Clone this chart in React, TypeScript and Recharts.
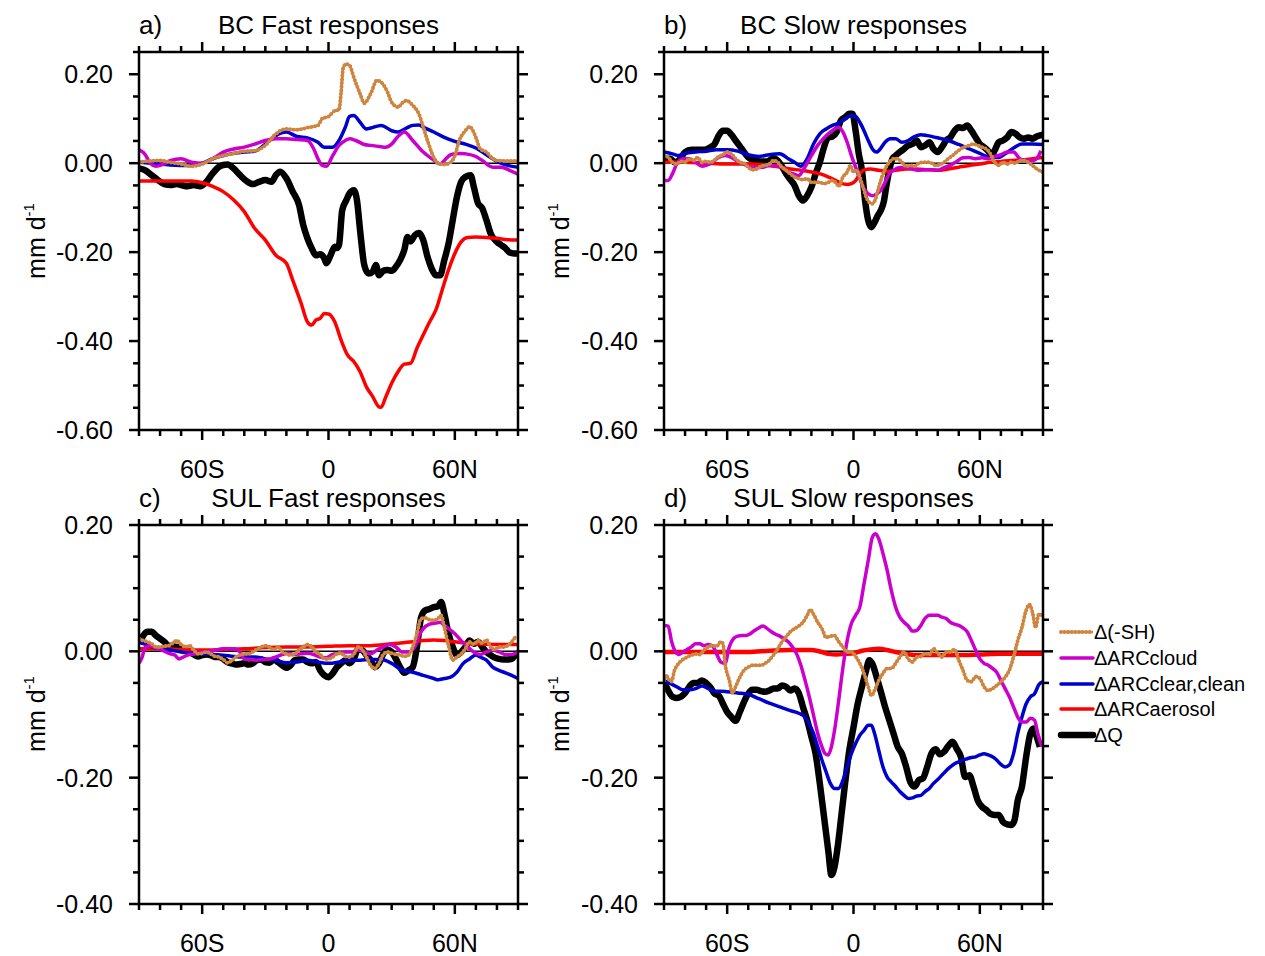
import React from 'react';
import { LineChart, Line, XAxis, YAxis, ReferenceLine } from 'recharts';

type Pair = [number, number];

// latitude ticks (degrees), majors get labels
const X_TICKS = [-90, -80, -70, -60, -50, -40, -30, -20, -10, 0, 10, 20, 30, 40, 50, 60, 70, 80, 90];
const X_MAJOR = [-60, 0, 60];
const X_LABELS = ['60S', '0', '60N'];

const Y_TICKS_TOP = [-0.6, -0.55, -0.5, -0.45, -0.4, -0.35, -0.3, -0.25, -0.2, -0.15, -0.1, -0.05, 0, 0.05, 0.1, 0.15, 0.2, 0.25];
const Y_MAJOR_TOP = [-0.6, -0.4, -0.2, 0, 0.2];
const Y_TICKS_BOT = [-0.4, -0.35, -0.3, -0.25, -0.2, -0.15, -0.1, -0.05, 0, 0.05, 0.1, 0.15, 0.2];
const Y_MAJOR_BOT = [-0.4, -0.2, 0, 0.2];

const LEGEND_NAMES = ['\u0394(-SH)', '\u0394ARCcloud', '\u0394ARCclear,clean', '\u0394ARCaerosol', '\u0394Q'];

// ---- a) BC fast
const aSH: Pair[] = [[-90, 0.002], [-85, 0.005], [-80, 0.006], [-75, 0.002], [-70, -0.002], [-65, -0.007], [-60, -0.002], [-55, 0.01], [-50, 0.017], [-45, 0.022], [-40, 0.027], [-35, 0.028], [-30, 0.04], [-25, 0.066], [-20, 0.077], [-15, 0.075], [-10, 0.08], [-5, 0.085], [-3, 0.1], [0, 0.105], [3, 0.118], [5, 0.12], [6, 0.16], [7, 0.215], [8.5, 0.223], [10, 0.22], [12, 0.193], [15, 0.156], [17, 0.135], [20, 0.156], [23, 0.186], [25, 0.182], [28, 0.16], [30, 0.137], [33, 0.126], [35, 0.135], [37, 0.141], [40, 0.13], [43, 0.11], [45, 0.081], [47, 0.051], [50, 0.013], [52, 0], [55, -0.003], [58, 0.002], [60, 0.017], [62, 0.05], [65, 0.073], [67, 0.082], [70, 0.058], [72, 0.032], [75, 0.025], [78, 0.01], [80, 0.006], [85, 0.005], [90, 0.005]];
const aCloud: Pair[] = [[-90, 0.03], [-87, 0.019], [-85, 0.002], [-82, -0.007], [-80, -0.005], [-75, 0.006], [-70, 0.01], [-65, 0.002], [-60, 0], [-55, 0.01], [-50, 0.025], [-45, 0.032], [-40, 0.036], [-35, 0.043], [-30, 0.051], [-25, 0.055], [-20, 0.055], [-15, 0.053], [-10, 0.051], [-7, 0.032], [-5, 0.01], [-3, -0.005], [-1, -0.007], [2, 0.017], [5, 0.04], [8, 0.051], [10, 0.055], [13, 0.051], [17, 0.042], [20, 0.04], [25, 0.037], [27, 0.036], [30, 0.043], [33, 0.06], [36, 0.07], [40, 0.051], [45, 0.025], [50, 0.007], [53, -0.002], [55, 0.006], [58, 0.019], [62, 0.022], [65, 0.021], [70, 0.015], [73, 0.006], [78, -0.009], [82, -0.009], [86, -0.016], [90, -0.025]];
const aClear: Pair[] = [[-90, 0.002], [-80, -0.002], [-70, -0.005], [-65, -0.005], [-60, 0], [-55, 0.01], [-50, 0.017], [-45, 0.022], [-40, 0.025], [-35, 0.027], [-30, 0.043], [-25, 0.062], [-20, 0.07], [-15, 0.06], [-10, 0.057], [-5, 0.047], [-2, 0.036], [2, 0.036], [5, 0.051], [8, 0.081], [10, 0.105], [12, 0.107], [15, 0.092], [18, 0.077], [20, 0.079], [25, 0.085], [30, 0.073], [33, 0.07], [37, 0.079], [40, 0.085], [43, 0.086], [45, 0.081], [50, 0.07], [55, 0.058], [60, 0.049], [65, 0.043], [70, 0.034], [75, 0.019], [80, 0.004], [85, -0.005], [90, -0.009]];
const aAer: Pair[] = [[-90, -0.04], [-80, -0.04], [-70, -0.04], [-65, -0.04], [-60, -0.044], [-55, -0.052], [-50, -0.064], [-45, -0.083], [-40, -0.109], [-35, -0.147], [-30, -0.173], [-25, -0.207], [-20, -0.225], [-17, -0.263], [-13, -0.315], [-10, -0.357], [-8, -0.364], [-6, -0.353], [-4, -0.349], [-2, -0.338], [0, -0.339], [3, -0.357], [6, -0.398], [9, -0.431], [12, -0.446], [15, -0.469], [18, -0.503], [21, -0.525], [24, -0.548], [25, -0.549], [27, -0.528], [30, -0.495], [33, -0.469], [36, -0.452], [39, -0.45], [42, -0.416], [45, -0.386], [48, -0.357], [51, -0.33], [54, -0.285], [57, -0.24], [60, -0.203], [63, -0.177], [66, -0.167], [70, -0.166], [75, -0.167], [80, -0.169], [85, -0.172], [90, -0.173]];
const aQ: Pair[] = [[-90, -0.012], [-87, -0.016], [-84, -0.027], [-81, -0.038], [-78, -0.047], [-75, -0.049], [-72, -0.047], [-70, -0.049], [-67, -0.052], [-64, -0.049], [-61, -0.052], [-58, -0.042], [-55, -0.023], [-52, -0.008], [-50, -0.004], [-48, -0.003], [-45, -0.012], [-42, -0.027], [-39, -0.04], [-36, -0.047], [-33, -0.042], [-30, -0.038], [-27, -0.042], [-25, -0.027], [-23, -0.019], [-20, -0.034], [-17, -0.064], [-14, -0.094], [-12, -0.139], [-10, -0.169], [-8, -0.191], [-6, -0.207], [-4, -0.205], [-2, -0.214], [-1, -0.225], [1, -0.207], [3, -0.188], [4, -0.191], [5, -0.184], [6.5, -0.106], [8.5, -0.083], [10, -0.068], [12, -0.061], [13.5, -0.083], [15, -0.151], [17, -0.229], [19, -0.248], [21, -0.244], [22.5, -0.229], [24, -0.252], [26, -0.242], [28, -0.24], [30, -0.242], [32, -0.233], [34, -0.218], [36, -0.195], [37.5, -0.166], [39, -0.176], [41, -0.162], [43, -0.157], [45, -0.173], [47, -0.21], [49, -0.237], [51, -0.252], [53, -0.252], [55, -0.218], [57, -0.181], [59, -0.128], [61, -0.076], [63, -0.042], [65, -0.031], [67.5, -0.027], [69, -0.053], [71, -0.09], [73, -0.101], [75, -0.128], [77, -0.158], [80, -0.177], [82, -0.184], [84, -0.191], [86, -0.201], [88, -0.203], [90, -0.203]];

// ---- b) BC slow
const bSH: Pair[] = [[-90, 0.017], [-88, 0.013], [-86, 0.002], [-84, -0.002], [-82, 0.004], [-80, 0.002], [-78, 0.01], [-76, 0.006], [-74, 0.013], [-72, 0.002], [-70, 0.004], [-68, 0.002], [-66, 0.007], [-64, 0.015], [-62, 0.019], [-60, 0.025], [-58, 0.021], [-56, 0.01], [-54, 0.002], [-52, 0], [-50, -0.009], [-48, -0.015], [-46, -0.013], [-44, -0.007], [-42, -0.005], [-40, -0.002], [-38, 0.006], [-36, 0.002], [-34, -0.009], [-32, -0.016], [-30, -0.024], [-28, -0.031], [-26, -0.035], [-24, -0.037], [-22, -0.035], [-20, -0.043], [-18, -0.043], [-16, -0.043], [-14, -0.046], [-12, -0.043], [-10, -0.039], [-8, -0.046], [-7, -0.052], [-5, -0.031], [-3, -0.02], [-1.5, -0.005], [0, -0.02], [1.5, -0.016], [3, -0.031], [4.5, -0.054], [6, -0.076], [7.5, -0.088], [9, -0.091], [10.5, -0.08], [12, -0.054], [13.5, -0.031], [15, -0.013], [17, 0.002], [19, 0.01], [21, 0.01], [23, 0.002], [25, -0.007], [27, -0.005], [29, -0.007], [31, 0], [33, 0.002], [35, 0.002], [37, 0], [39, -0.005], [41, -0.003], [43, 0.002], [45, 0.01], [47, 0.017], [49, 0.025], [51, 0.032], [53, 0.037], [55, 0.04], [57, 0.043], [59, 0.04], [61, 0.036], [63, 0.032], [65, 0.021], [67, 0.002], [69, -0.005], [71, 0.002], [73, -0.002], [75, 0.002], [77, 0], [79, 0.006], [81, 0.006], [83, 0.002], [85, -0.005], [87, -0.013], [90, -0.02]];
const bCloud: Pair[] = [[-90, -0.039], [-88, -0.039], [-86, -0.024], [-84, -0.002], [-81, 0.01], [-78, 0.01], [-75, 0.002], [-72, -0.007], [-70, -0.005], [-67, 0.002], [-64, 0.013], [-61, 0.017], [-58, 0.013], [-55, 0.004], [-52, -0.002], [-49, -0.009], [-46, -0.01], [-43, -0.009], [-40, -0.005], [-37, -0.005], [-34, -0.009], [-31, -0.02], [-28, -0.025], [-26, -0.028], [-24, -0.016], [-22, 0], [-20, 0.017], [-17, 0.04], [-14, 0.057], [-11, 0.07], [-9, 0.077], [-7, 0.081], [-5, 0.07], [-3, 0.047], [-1, 0.017], [1, -0.009], [3, -0.035], [5, -0.058], [7, -0.069], [9, -0.073], [11, -0.069], [13, -0.061], [15, -0.043], [17, -0.024], [19, -0.016], [22, -0.01], [25, -0.01], [28, -0.013], [31, -0.016], [34, -0.015], [37, -0.015], [40, -0.016], [43, -0.01], [46, -0.005], [49, 0.004], [52, 0.012], [55, 0.013], [58, 0.01], [61, 0.012], [64, 0.01], [67, 0.015], [70, 0.019], [73, 0.025], [76, 0.025], [79, 0.01], [82, 0.006], [85, 0.006], [87, 0.01], [89, 0.028]];
const bClear: Pair[] = [[-90, 0.025], [-86, 0.021], [-83, 0.017], [-80, 0.022], [-75, 0.025], [-70, 0.027], [-65, 0.03], [-60, 0.03], [-55, 0.027], [-50, 0.019], [-45, 0.015], [-40, 0.019], [-35, 0.021], [-31, 0.01], [-28, 0.002], [-25, -0.007], [-22, 0.01], [-19, 0.043], [-16, 0.066], [-13, 0.077], [-10, 0.085], [-7, 0.09], [-4, 0.1], [-1, 0.107], [1, 0.105], [3, 0.092], [5, 0.073], [7, 0.051], [9, 0.032], [11, 0.025], [13, 0.034], [15, 0.047], [17.5, 0.055], [20, 0.055], [23, 0.047], [26, 0.051], [29, 0.06], [32, 0.064], [35, 0.062], [40, 0.057], [45, 0.051], [50, 0.042], [55, 0.032], [60, 0.022], [65, 0.013], [69, 0.013], [72, 0.021], [76, 0.034], [80, 0.043], [85, 0.043], [90, 0.042]];
const bAer: Pair[] = [[-90, 0.002], [-80, 0.002], [-70, 0], [-60, -0.002], [-50, -0.002], [-40, -0.005], [-35, -0.009], [-30, -0.013], [-25, -0.016], [-20, -0.02], [-15, -0.025], [-10, -0.035], [-6, -0.045], [-3, -0.048], [-1, -0.046], [1, -0.039], [3, -0.024], [5, -0.015], [8, -0.013], [12, -0.016], [16, -0.018], [20, -0.016], [25, -0.013], [30, -0.013], [35, -0.015], [40, -0.016], [45, -0.013], [50, -0.009], [55, -0.005], [60, -0.002], [65, 0.002], [70, 0.004], [75, 0.006], [80, 0.007], [85, 0.01], [90, 0.013]];
const bQ: Pair[] = [[-90, 0.01], [-87, 0.01], [-85, 0.002], [-83, 0.006], [-80, 0.025], [-77, 0.03], [-74, 0.03], [-71, 0.03], [-68, 0.036], [-66, 0.043], [-64, 0.062], [-62, 0.073], [-60, 0.073], [-58, 0.064], [-56, 0.051], [-53, 0.032], [-50, 0.013], [-47, 0.006], [-44, 0.004], [-41, 0.004], [-38, 0.011], [-36, 0.006], [-34, -0.007], [-32, -0.024], [-30, -0.037], [-28, -0.05], [-26, -0.073], [-24, -0.084], [-22, -0.073], [-20, -0.054], [-18, -0.024], [-16, 0.002], [-14, 0.036], [-12, 0.058], [-10, 0.06], [-8, 0.07], [-6, 0.096], [-4, 0.103], [-2, 0.111], [-0.5, 0.111], [1, 0.073], [2.5, 0.021], [4, -0.016], [5.5, -0.084], [7, -0.129], [8.5, -0.144], [10, -0.133], [11.5, -0.118], [13, -0.106], [14.5, -0.084], [15.5, -0.054], [17, -0.016], [18.5, 0.01], [20, 0.017], [22, 0.025], [24, 0.032], [26, 0.04], [28, 0.043], [30, 0.051], [32, 0.036], [34, 0.04], [36, 0.047], [38, 0.032], [40, 0.025], [42, 0.036], [44, 0.051], [46, 0.058], [48, 0.073], [50, 0.081], [52, 0.079], [54, 0.085], [56, 0.073], [58, 0.058], [60, 0.043], [62, 0.036], [64, 0.027], [65.5, 0.017], [67, 0.028], [69, 0.047], [71, 0.051], [73, 0.058], [75, 0.07], [77, 0.066], [79, 0.058], [81, 0.055], [83, 0.058], [85, 0.055], [87, 0.06], [90, 0.064]];

// ---- c) SUL fast
const cSH: Pair[] = [[-90, 0.02], [-88, 0.017], [-86, 0.015], [-84, 0.012], [-82, 0.007], [-80, 0.007], [-78, 0.008], [-76, 0.009], [-74, 0.013], [-72, 0.017], [-70, 0.011], [-68, 0.007], [-66, 0.009], [-64, 0.002], [-62, -0.004], [-60, -0.003], [-58, -0.001], [-56, -0.004], [-54, -0.008], [-52, -0.009], [-50, -0.013], [-48, -0.018], [-46, -0.015], [-44, -0.009], [-42, -0.006], [-40, -0.004], [-38, -0.004], [-36, -0.001], [-34, 0.003], [-32, 0.007], [-30, 0.009], [-28, 0.007], [-26, 0.002], [-24, 0.007], [-22, -0.001], [-20, -0.004], [-18, -0.006], [-16, -0.004], [-14, 0.002], [-12, 0.007], [-10, 0.011], [-8, 0.007], [-6, -0.001], [-4, -0.005], [-2, -0.012], [0, -0.012], [2, -0.009], [4, -0.004], [6, -0.003], [8, -0.008], [10, -0.009], [12, -0.005], [14, 0.007], [16, 0.003], [18, -0.009], [20, -0.022], [22, -0.027], [24, -0.019], [26, -0.005], [28, -0.001], [30, -0.003], [32, -0.005], [34, -0.006], [36, -0.008], [38, -0.006], [40, 0.007], [42, 0.028], [44, 0.052], [46, 0.053], [48, 0.05], [50, 0.049], [52, 0.052], [53.5, 0.057], [55, 0.038], [57, 0.009], [59, -0.014], [61, -0.009], [63, -0.004], [65, 0.004], [67, 0.015], [69, 0.011], [71, 0.017], [73, 0.013], [75, 0.018], [77, 0.007], [79, 0.003], [81, 0.007], [83, 0.007], [85, 0.009], [87, 0.015], [89, 0.024]];
const cCloud: Pair[] = [[-90, -0.019], [-88.5, -0.009], [-87, 0.007], [-85, 0.009], [-82, 0.006], [-79, 0.002], [-76, -0.003], [-73, -0.006], [-71, -0.012], [-69, -0.009], [-66, -0.005], [-63, -0.004], [-60, -0.001], [-55, 0.001], [-50, 0.004], [-45, 0.004], [-42, -0.001], [-40, -0.012], [-37, -0.013], [-34, -0.014], [-31, -0.013], [-28, -0.012], [-25, -0.009], [-22, -0.005], [-19, -0.003], [-16, -0.005], [-13, -0.004], [-10, -0.003], [-7, -0.005], [-4, -0.009], [-1, -0.01], [2, -0.005], [5, -0.003], [8, -0.001], [11, -0.001], [14, 0.002], [17, -0.001], [20, -0.004], [23, 0.002], [26, 0.007], [29, 0.011], [32, 0.007], [35, -0.001], [38, -0.001], [41, 0.007], [43, 0.025], [45, 0.036], [48, 0.043], [51, 0.045], [53, 0.046], [55, 0.041], [57, 0.036], [60, 0.028], [63, 0.017], [66, 0.007], [69, -0.001], [72, -0.005], [75, -0.001], [78, 0.002], [81, -0.001], [84, -0.005], [87, -0.005], [90, -0.001]];
const cClear: Pair[] = [[-90, 0.015], [-87, 0.011], [-84, 0.007], [-80, 0.004], [-75, 0.002], [-70, -0.001], [-65, -0.003], [-60, -0.004], [-55, -0.005], [-50, -0.006], [-45, -0.008], [-40, -0.009], [-35, -0.009], [-30, -0.012], [-25, -0.014], [-20, -0.018], [-15, -0.017], [-10, -0.014], [-5, -0.017], [0, -0.019], [5, -0.017], [10, -0.014], [15, -0.014], [20, -0.013], [25, -0.013], [30, -0.019], [35, -0.03], [40, -0.033], [45, -0.038], [50, -0.043], [52, -0.045], [55, -0.043], [58, -0.041], [61, -0.033], [64, -0.019], [67, -0.012], [70, -0.006], [72, -0.009], [75, -0.014], [78, -0.025], [81, -0.03], [84, -0.034], [87, -0.038], [90, -0.043]];
const cAer: Pair[] = [[-90, 0.004], [-80, 0.004], [-70, 0.003], [-60, 0.002], [-50, 0.003], [-40, 0.004], [-30, 0.006], [-20, 0.007], [-10, 0.007], [0, 0.008], [10, 0.009], [20, 0.009], [30, 0.012], [40, 0.015], [45, 0.017], [50, 0.018], [55, 0.017], [60, 0.015], [65, 0.013], [70, 0.012], [80, 0.011], [90, 0.011]];
const cQ: Pair[] = [[-90, 0.012], [-88, 0.025], [-86, 0.031], [-84, 0.031], [-82, 0.025], [-80, 0.02], [-78, 0.015], [-76, 0.009], [-74, 0.008], [-72, 0.007], [-70, 0.006], [-68, 0.003], [-66, -0.001], [-64, -0.005], [-62, -0.008], [-60, -0.006], [-58, -0.005], [-56, -0.006], [-54, -0.009], [-52, -0.009], [-50, -0.012], [-48, -0.017], [-46, -0.019], [-44, -0.021], [-42, -0.02], [-40, -0.019], [-38, -0.021], [-36, -0.019], [-34, -0.014], [-32, -0.013], [-30, -0.017], [-28, -0.018], [-26, -0.013], [-24, -0.017], [-22, -0.022], [-20, -0.026], [-18, -0.022], [-16, -0.014], [-14, -0.013], [-12, -0.013], [-10, -0.017], [-8, -0.019], [-6, -0.017], [-4, -0.03], [-2, -0.038], [0, -0.041], [2, -0.035], [4, -0.025], [6, -0.019], [8, -0.014], [10, -0.019], [12, -0.012], [14, 0.003], [16, 0.002], [18, -0.006], [20, -0.014], [22, -0.025], [24, -0.019], [26, -0.004], [28, 0.003], [30, -0.001], [32, -0.012], [34, -0.025], [36, -0.034], [38, -0.03], [40, -0.025], [42, 0.007], [44, 0.054], [46, 0.065], [48, 0.067], [50, 0.07], [52, 0.071], [53.5, 0.078], [55, 0.06], [57, 0.028], [59, 0.007], [61, -0.006], [63, -0.001], [65, 0.007], [67, 0.017], [69, 0.012], [71, 0.015], [73, 0.007], [75, -0.001], [77, -0.006], [79, -0.01], [81, -0.012], [83, -0.013], [85, -0.013], [87, -0.012], [89, -0.005], [90, -0.003]];

// ---- d) SUL slow
const dSH: Pair[] = [[-90, -0.046], [-89, -0.038], [-88, -0.043], [-86.5, -0.048], [-85, -0.03], [-83, -0.019], [-81, -0.013], [-79, -0.009], [-77, -0.006], [-75, -0.004], [-73, -0.005], [-71, 0.002], [-69, 0.007], [-67, 0.009], [-65, 0.008], [-63, 0.015], [-62, 0.012], [-61, -0.019], [-59, -0.046], [-57.5, -0.066], [-56, -0.056], [-54, -0.041], [-52, -0.03], [-50, -0.025], [-48, -0.022], [-46, -0.022], [-44, -0.022], [-42, -0.019], [-40, -0.014], [-38, -0.006], [-36, 0.004], [-34, 0.015], [-32, 0.023], [-30, 0.031], [-28, 0.036], [-26, 0.04], [-24, 0.046], [-22, 0.057], [-20.5, 0.066], [-19, 0.059], [-17, 0.046], [-15, 0.036], [-13, 0.022], [-11, 0.024], [-9, 0.025], [-7, 0.015], [-5, 0.007], [-3, -0.001], [-1, -0.001], [1, -0.008], [3, -0.019], [5, -0.035], [7, -0.056], [8.5, -0.07], [10, -0.062], [12, -0.046], [14, -0.035], [16, -0.027], [18, -0.027], [20, -0.019], [22, -0.009], [24, -0.001], [26, -0.012], [28, -0.017], [30, -0.009], [32, -0.008], [34, -0.003], [36, -0.005], [38, 0.004], [40, -0.003], [42, -0.009], [44, -0.001], [46, -0.001], [48, 0.003], [50, -0.014], [52, -0.03], [54, -0.046], [56, -0.048], [58, -0.04], [60, -0.043], [62, -0.056], [64, -0.062], [66, -0.059], [68, -0.054], [70, -0.048], [72, -0.041], [74, -0.03], [76, -0.009], [78, 0.017], [80, 0.038], [82, 0.065], [83.5, 0.074], [85, 0.062], [86.5, 0.038], [88, 0.059], [89.5, 0.057]];
const dCloud: Pair[] = [[-90, 0.041], [-88, 0.04], [-86.5, 0.017], [-85, 0.002], [-83, -0.005], [-81, -0.001], [-79, 0.003], [-77, 0.007], [-75, 0.012], [-73, 0.012], [-71, 0.009], [-69, 0.011], [-67, 0.009], [-65, -0.004], [-63, -0.017], [-61, -0.019], [-59, 0.007], [-57, 0.02], [-55, 0.024], [-53, 0.025], [-51, 0.025], [-49, 0.028], [-47, 0.033], [-45, 0.037], [-43, 0.04], [-41, 0.036], [-39, 0.031], [-37, 0.027], [-35, 0.024], [-33, 0.02], [-31, 0.015], [-29, 0.007], [-27, -0.004], [-25, -0.022], [-23, -0.046], [-21, -0.072], [-19, -0.101], [-17, -0.13], [-15, -0.151], [-13.5, -0.162], [-12, -0.164], [-10.5, -0.151], [-9, -0.125], [-7, -0.077], [-5, -0.025], [-3, 0.017], [-1, 0.044], [1, 0.057], [3, 0.07], [5, 0.107], [7, 0.144], [9, 0.181], [10.5, 0.186], [12, 0.178], [14, 0.155], [16, 0.128], [18, 0.096], [20, 0.07], [22, 0.054], [24, 0.046], [26, 0.04], [28, 0.032], [30, 0.033], [32, 0.041], [34, 0.052], [36, 0.057], [38, 0.057], [40, 0.057], [42, 0.054], [44, 0.052], [46, 0.046], [48, 0.043], [50, 0.041], [52, 0.037], [54, 0.031], [56, 0.017], [58, 0.002], [60, -0.012], [62, -0.019], [64, -0.022], [66, -0.027], [68, -0.033], [70, -0.046], [72, -0.059], [74, -0.072], [76, -0.088], [78, -0.104], [80, -0.112], [82, -0.112], [84, -0.106], [86, -0.109], [87.5, -0.13], [89.5, -0.151]];
const dClear: Pair[] = [[-90, -0.046], [-87, -0.051], [-84, -0.056], [-81, -0.061], [-78, -0.061], [-75, -0.059], [-72, -0.055], [-69, -0.059], [-66, -0.063], [-63, -0.063], [-60, -0.064], [-55, -0.066], [-50, -0.068], [-45, -0.075], [-40, -0.082], [-35, -0.088], [-30, -0.094], [-26, -0.098], [-23, -0.104], [-21, -0.115], [-19, -0.13], [-17, -0.151], [-15, -0.172], [-13, -0.191], [-11, -0.209], [-9, -0.217], [-7, -0.217], [-5, -0.204], [-3, -0.183], [-1, -0.162], [1, -0.146], [3, -0.133], [5, -0.125], [7, -0.117], [8.5, -0.117], [10, -0.13], [12, -0.157], [14, -0.183], [16, -0.199], [18, -0.207], [20, -0.214], [22, -0.222], [24, -0.228], [26, -0.233], [28, -0.232], [30, -0.229], [32, -0.228], [34, -0.222], [36, -0.217], [38, -0.209], [40, -0.203], [42, -0.196], [44, -0.189], [46, -0.183], [48, -0.178], [50, -0.175], [52, -0.172], [54, -0.17], [56, -0.168], [58, -0.167], [60, -0.164], [62, -0.162], [64, -0.164], [66, -0.167], [68, -0.172], [70, -0.179], [72, -0.183], [74, -0.18], [76, -0.162], [78, -0.13], [80, -0.104], [82, -0.083], [84, -0.072], [86, -0.067], [88, -0.053], [90, -0.048]];
const dAer: Pair[] = [[-90, -0.001], [-80, -0.001], [-70, -0.001], [-60, -0.001], [-50, -0.001], [-40, 0.001], [-30, 0.002], [-20, 0.002], [-15, -0.001], [-12, -0.004], [-8, -0.005], [-4, -0.004], [0, -0.003], [4, 0.001], [8, 0.003], [12, 0.004], [16, 0.002], [20, -0.001], [25, -0.004], [30, -0.006], [40, -0.006], [50, -0.006], [60, -0.005], [70, -0.004], [80, -0.004], [90, -0.004]];
const dQ: Pair[] = [[-90, -0.048], [-88, -0.062], [-86, -0.072], [-84, -0.074], [-82, -0.072], [-80, -0.066], [-78, -0.056], [-76, -0.05], [-74, -0.05], [-72, -0.046], [-70, -0.05], [-68, -0.057], [-66, -0.067], [-64, -0.07], [-62, -0.083], [-60, -0.096], [-58, -0.104], [-56, -0.11], [-54, -0.096], [-52, -0.08], [-50, -0.067], [-48, -0.061], [-46, -0.061], [-44, -0.063], [-42, -0.064], [-40, -0.062], [-38, -0.059], [-36, -0.059], [-34, -0.054], [-32, -0.056], [-30, -0.062], [-28, -0.059], [-26, -0.066], [-24, -0.088], [-22, -0.109], [-20, -0.135], [-18, -0.162], [-16, -0.209], [-14, -0.262], [-12, -0.315], [-10.5, -0.354], [-9, -0.341], [-7.5, -0.309], [-6, -0.267], [-4, -0.209], [-2, -0.157], [0, -0.12], [2, -0.083], [4, -0.056], [6, -0.03], [7.5, -0.014], [9, -0.02], [11, -0.041], [13, -0.064], [15, -0.088], [17, -0.109], [19, -0.13], [21, -0.151], [23, -0.162], [25, -0.183], [27, -0.207], [29, -0.214], [31, -0.204], [33, -0.201], [35, -0.183], [37, -0.162], [39, -0.155], [41, -0.163], [43, -0.159], [45, -0.15], [47, -0.143], [49, -0.154], [51, -0.167], [53, -0.199], [55, -0.196], [57, -0.214], [59, -0.236], [61, -0.246], [63, -0.251], [65, -0.257], [67, -0.259], [69, -0.259], [71, -0.27], [73, -0.274], [75, -0.275], [76.5, -0.267], [78, -0.236], [80, -0.214], [82, -0.167], [84, -0.13], [85.5, -0.122], [87, -0.135], [88.5, -0.151]];

const C_SH = '#CD853F';
const C_CLOUD = '#CC00CC';
const C_CLEAR = '#0000CD';
const C_AER = '#FF0000';
const C_Q = '#000000';

const FONT = '"Liberation Sans", Arial, Helvetica, sans-serif';
const AXIS = { stroke: '#000', strokeWidth: 2.5 };
const AX = 1; // axis band size; recharts skips axes of size 0

const rows = (pts: Pair[]) => pts.map(([lat, v]) => ({ lat, v }));
const near = (list: number[], v: number) => list.some(m => Math.abs(m - v) < 1e-6);

interface Series { sh: Pair[]; cloud: Pair[]; clear: Pair[]; aer: Pair[]; q: Pair[]; aerWidth: number }
interface PanelProps {
    box: [number, number, number, number];   // left, top, width, height of the svg
    plot: [number, number, number, number];  // x0, y0, x1, y1 of the plot frame
    yDomain: [number, number];
    yTicks: number[];
    yMajor: number[];
    s: Series;
}

const Panel: React.FC<PanelProps> = ({ box, plot, yDomain, yTicks, yMajor, s }) => {
    const margin = {
        left: plot[0] - box[0] - AX,
        top: plot[1] - box[1] - AX,
        right: box[0] + box[2] - plot[2] - AX,
        bottom: box[1] + box[3] - plot[3] - AX,
    };

    const xTick = (side: 'top' | 'bottom') => (p: any) => {
        const v = p.payload.value;
        const major = near(X_MAJOR, v);
        const dir = side === 'bottom' ? 1 : -1;
        const len = major ? 10 : 6;
        const idx = X_MAJOR.indexOf(v);
        return (
            <g>
                <line x1={p.x} x2={p.x} y1={p.y} y2={p.y + dir * len} stroke="#000" strokeWidth={2.5} />
                {side === 'bottom' && idx >= 0 ? (
                    <text x={p.x} y={p.y + 48} textAnchor="middle" fontSize={25} fontFamily={FONT} fill="#000">
                        {X_LABELS[idx]}
                    </text>
                ) : null}
            </g>
        );
    };

    const yTick = (side: 'left' | 'right') => (p: any) => {
        const v = p.payload.value;
        const major = near(yMajor, v);
        const dir = side === 'left' ? -1 : 1;
        const len = major ? 10 : 6;
        return (
            <g>
                <line x1={p.x} x2={p.x + dir * len} y1={p.y} y2={p.y} stroke="#000" strokeWidth={2.5} />
                {side === 'left' && major ? (
                    <text x={p.x - 26} y={p.y} dy="0.36em" textAnchor="end" fontSize={25} fontFamily={FONT} fill="#000">
                        {v.toFixed(2)}
                    </text>
                ) : null}
            </g>
        );
    };

    const common = { dot: false, activeDot: false, isAnimationActive: false, xAxisId: 'b', yAxisId: 'l', dataKey: 'v', type: 'monotone' as const, strokeLinejoin: 'round' as const };

    return (
        <div style={{ position: 'absolute', left: box[0], top: box[1] }}>
            <LineChart width={box[2]} height={box[3]} margin={margin}>
                <XAxis xAxisId="b" orientation="bottom" dataKey="lat" type="number" domain={[-90, 90]} ticks={X_TICKS} interval={0}
                    height={AX} tickSize={0} tickMargin={0} tickLine={false} axisLine={AXIS} tick={xTick('bottom')} allowDataOverflow />
                <XAxis xAxisId="t" orientation="top" dataKey="lat" type="number" domain={[-90, 90]} ticks={X_TICKS} interval={0}
                    height={AX} tickSize={0} tickMargin={0} tickLine={false} axisLine={AXIS} tick={xTick('top')} allowDataOverflow />
                <YAxis yAxisId="l" orientation="left" type="number" domain={yDomain} ticks={yTicks} interval={0}
                    width={AX} tickSize={0} tickMargin={0} tickLine={false} axisLine={AXIS} tick={yTick('left')} allowDataOverflow />
                <YAxis yAxisId="r" orientation="right" type="number" domain={yDomain} ticks={yTicks} interval={0}
                    width={AX} tickSize={0} tickMargin={0} tickLine={false} axisLine={AXIS} tick={yTick('right')} allowDataOverflow />

                <ReferenceLine xAxisId="b" yAxisId="l" y={0} stroke="#000" strokeWidth={1.5} />

                <Line {...common} data={rows(s.q)} stroke={C_Q} strokeWidth={6.5} />
                <Line {...common} data={rows(s.aer)} stroke={C_AER} strokeWidth={s.aerWidth} />
                <Line {...common} data={rows(s.clear)} stroke={C_CLEAR} strokeWidth={3.5} />
                <Line {...common} data={rows(s.cloud)} stroke={C_CLOUD} strokeWidth={3.5} />
                <Line {...common} data={rows(s.sh)} stroke={C_SH} strokeWidth={2.5} />
                <Line {...common} data={rows(s.sh)} stroke={C_SH} strokeWidth={4} strokeDasharray="0 3.6" strokeLinecap="round" />
            </LineChart>
        </div>
    );
};

const TITLES = [
    { tag: 'a)', title: 'BC Fast responses', x0: 139, x1: 518, y: 34 },
    { tag: 'b)', title: 'BC Slow responses', x0: 664, x1: 1043, y: 34 },
    { tag: 'c)', title: 'SUL Fast responses', x0: 139, x1: 518, y: 507 },
    { tag: 'd)', title: 'SUL Slow responses', x0: 664, x1: 1043, y: 507 },
];
const YLABEL_POS = [[45, 241], [569, 241], [45, 714], [569, 714]];
const LEGEND_ROWS = [632, 658, 684, 709, 735];

export default function App() {
    return (
        <div style={{ position: 'absolute', left: 0, top: 0, width: 1265, height: 956, background: '#fff', overflow: 'hidden' }}>
            <Panel box={[0, 0, 640, 490]} plot={[139, 52, 518, 430]} yDomain={[-0.6, 0.25]} yTicks={Y_TICKS_TOP} yMajor={Y_MAJOR_TOP}
                s={{ sh: aSH, cloud: aCloud, clear: aClear, aer: aAer, q: aQ, aerWidth: 3.5 }} />
            <Panel box={[520, 0, 745, 490]} plot={[664, 52, 1043, 430]} yDomain={[-0.6, 0.25]} yTicks={Y_TICKS_TOP} yMajor={Y_MAJOR_TOP}
                s={{ sh: bSH, cloud: bCloud, clear: bClear, aer: bAer, q: bQ, aerWidth: 3.5 }} />
            <Panel box={[0, 480, 640, 476]} plot={[139, 525, 518, 904]} yDomain={[-0.4, 0.2]} yTicks={Y_TICKS_BOT} yMajor={Y_MAJOR_BOT}
                s={{ sh: cSH, cloud: cCloud, clear: cClear, aer: cAer, q: cQ, aerWidth: 3.5 }} />
            <Panel box={[520, 480, 745, 476]} plot={[664, 525, 1043, 904]} yDomain={[-0.4, 0.2]} yTicks={Y_TICKS_BOT} yMajor={Y_MAJOR_BOT}
                s={{ sh: dSH, cloud: dCloud, clear: dClear, aer: dAer, q: dQ, aerWidth: 4.5 }} />

            <svg width={1265} height={956} style={{ position: 'absolute', left: 0, top: 0, pointerEvents: 'none' }} fontFamily={FONT}>
                {TITLES.map(t => (
                    <g key={t.tag}>
                        <text x={t.x0} y={t.y} fontSize={26} fill="#000">{t.tag}</text>
                        <text x={(t.x0 + t.x1) / 2} y={t.y} fontSize={26} fill="#000" textAnchor="middle">{t.title}</text>
                    </g>
                ))}
                {YLABEL_POS.map(([x, y], i) => (
                    <text key={i} x={x} y={y} fontSize={25} fill="#000" textAnchor="middle" transform={`rotate(-90 ${x} ${y})`}>
                        mm d<tspan dy={-11} fontSize={15}>-1</tspan>
                    </text>
                ))}
                {LEGEND_NAMES.map((name, i) => {
                    const y = LEGEND_ROWS[i];
                    const colors = [C_SH, C_CLOUD, C_CLEAR, C_AER, C_Q];
                    return (
                        <g key={name}>
                            {i === 0 ? (
                                <>
                                    <line x1={1061} x2={1093} y1={y} y2={y} stroke={C_SH} strokeWidth={2.5} />
                                    <line x1={1061} x2={1093} y1={y} y2={y} stroke={C_SH} strokeWidth={4} strokeDasharray="0 3.6" strokeLinecap="round" />
                                </>
                            ) : (
                                <line x1={1061} x2={1093} y1={y} y2={y} stroke={colors[i]} strokeWidth={i === 4 ? 6.5 : 3.5} strokeLinecap="round" />
                            )}
                            <text x={1094} y={y + 7} fontSize={20} fill="#000">{name}</text>
                        </g>
                    );
                })}
            </svg>
        </div>
    );
}
